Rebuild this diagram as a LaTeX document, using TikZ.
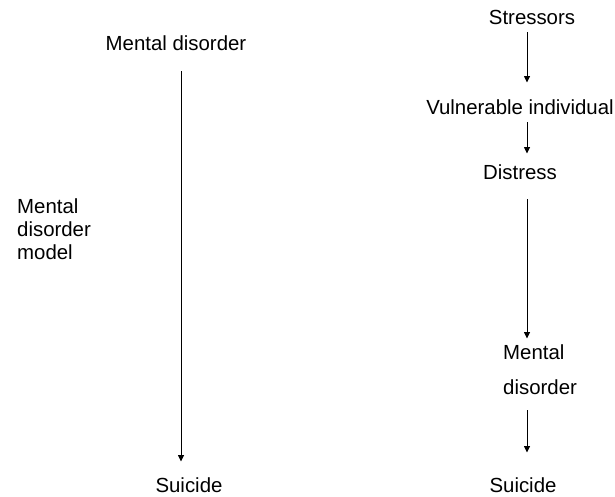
\documentclass[tikz,border=0pt]{standalone}
\usepackage{fontspec}
\setmainfont{Liberation Sans}
\usetikzlibrary{arrows.meta}
\begin{document}
\begin{tikzpicture}[x=1pt,y=-1pt,
  lbl/.style={inner sep=0pt,anchor=base,font=\fontsize{20.4}{23}\selectfont},
  lblw/.style={lbl,anchor=base west},
  arr/.style={line width=0.8pt,-{Triangle[length=6.5pt,width=6pt]}}]
\useasboundingbox (0,0) rectangle (615,497);
% left column
\node[lbl] (md) at (176,51) {Mental disorder};
\node[lbl] (sl) at (189,492) {Suicide};
\node[lblw] (m1) at (17,213) {Mental};
\node[lblw] (m2) at (17,236) {disorder};
\node[lblw] (m3) at (17,259) {model};
\coordinate (ax) at (181,0);
\draw[arr,shorten <=20pt,shorten >=15.5pt] (md.south -| ax) -- (sl.north -| ax);
% right column
\node[lbl] (st) at (532,25) {Stressors};
\node[lbl] (vi) at (520,115) {Vulnerable individual};
\node[lbl] (di) at (520,179) {Distress};
\node[lblw] (me) at (503,359) {Mental};
\node[lblw] (dis) at (503,394) {disorder};
\node[lbl] (sr) at (523,492) {Suicide};
\coordinate (bx) at (527,0);
\draw[arr,shorten <=7pt,shorten >=17.5pt] (st.south -| bx) -- (vi.north -| bx);
\draw[arr,shorten <=7pt,shorten >=10.5pt] (vi.south -| bx) -- (di.north -| bx);
\draw[arr,shorten <=20pt,shorten >=5.5pt] (di.south -| bx) -- (me.north -| bx);
\draw[arr,shorten <=16pt,shorten >=24.5pt] (dis.south -| bx) -- (sr.north -| bx);
\end{tikzpicture}
\end{document}
